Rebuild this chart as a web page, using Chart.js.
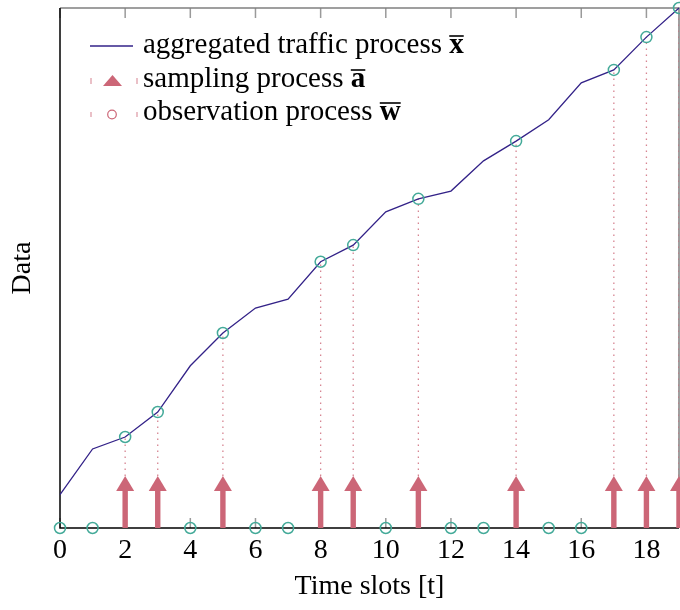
<!DOCTYPE html>
<html>
<head>
<meta charset="utf-8">
<title>Traffic sampling</title>
<script src="https://cdn.jsdelivr.net/npm/chart.js@4.4.1/dist/chart.umd.min.js"></script>
<style>
  html, body { margin: 0; padding: 0; background: #fff; }
  #wrap { width: 680px; height: 610px; }
</style>
</head>
<body>
<div id="wrap"><canvas id="chart" width="680" height="610"></canvas></div>
<script>
// Datos
const timeSlots = [0, 1, 2, 3, 4, 5, 6, 7, 8, 9, 10, 11, 12, 13, 14, 15, 16, 17, 18, 19];
const traffic = [0.64, 1.52, 1.75, 2.23, 3.12, 3.75, 4.23, 4.40, 5.12, 5.44,
                 6.08, 6.33, 6.48, 7.06, 7.44, 7.85, 8.56, 8.81, 9.44, 10.0];
const sampledSlots = [2, 3, 5, 8, 9, 11, 14, 17, 18, 19];
const arrowHeight = 1;
const xTicks = [0, 2, 4, 6, 8, 10, 12, 14, 16, 18];
const legendLabels = ['aggregated traffic process ', 'sampling process ', 'observation process '];
const legendSymbols = ['x', 'a', 'w'];

const INDIGO = '#332288';
const ROSE = '#CC6677';
const TEAL = '#44AA99';
const FONT = '"Liberation Serif", "Times New Roman", serif';

const observation = timeSlots.map(t => ({ x: t, y: sampledSlots.includes(t) ? traffic[t] : 0 }));
const stems = sampledSlots.flatMap(t => [
    { x: t, y: arrowHeight },
    { x: t, y: traffic[t] },
    { x: t, y: null }
]);

// Marco y marcas de los ejes (hacia dentro, estilo pgfplots)
const framePlugin = {
    id: 'frame',
    beforeDatasetsDraw(chart) {
        const { ctx, chartArea: { left, right, top, bottom }, scales: { x } } = chart;
        ctx.save();
        ctx.lineWidth = 1.5;
        ctx.strokeStyle = '#9a9a9a';
        xTicks.forEach(v => {
            const px = x.getPixelForValue(v);
            ctx.beginPath();
            ctx.moveTo(px, bottom); ctx.lineTo(px, bottom - 10);
            ctx.moveTo(px, top); ctx.lineTo(px, top + 10);
            ctx.stroke();
        });
        ctx.strokeStyle = '#808080';
        ctx.beginPath();
        ctx.moveTo(left, top); ctx.lineTo(right, top); ctx.lineTo(right, bottom);
        ctx.stroke();
        ctx.strokeStyle = '#000';
        ctx.beginPath();
        ctx.moveTo(left, top); ctx.lineTo(left, bottom); ctx.lineTo(right, bottom);
        ctx.stroke();
        ctx.restore();
    }
};

// Flechas del proceso de muestreo, a partir de las barras
const arrowPlugin = {
    id: 'arrows',
    afterDatasetDraw(chart, args) {
        if (args.meta.type !== 'bar') return;
        const ctx = chart.ctx;
        const headLen = 15, headHalf = 9, shaftHalf = 2.7;
        ctx.save();
        ctx.fillStyle = ROSE;
        args.meta.data.forEach(el => {
            const { x, y, base } = el.getProps(['x', 'y', 'base'], true);
            ctx.fillRect(x - shaftHalf, y + headLen - 0.5, shaftHalf * 2, base - y - headLen + 0.5);
            ctx.beginPath();
            ctx.moveTo(x, y);
            ctx.lineTo(x + headHalf, y + headLen);
            ctx.lineTo(x - headHalf, y + headLen);
            ctx.closePath();
            ctx.fill();
        });
        ctx.restore();
    }
};

// Leyenda dentro del área del gráfico
const legendPlugin = {
    id: 'innerLegend',
    afterDraw(chart) {
        const ctx = chart.ctx;
        const textX = 143;
        const baselines = [53, 87, 120];
        ctx.save();
        // símbolos
        ctx.strokeStyle = INDIGO;
        ctx.lineWidth = 1.3;
        ctx.beginPath();
        ctx.moveTo(90, 46); ctx.lineTo(133, 46);
        ctx.stroke();

        ctx.fillStyle = ROSE;
        ctx.beginPath();
        ctx.moveTo(112.5, 75); ctx.lineTo(122, 86); ctx.lineTo(103, 86);
        ctx.closePath();
        ctx.fill();

        ctx.strokeStyle = ROSE;
        ctx.lineWidth = 1.2;
        ctx.beginPath();
        ctx.arc(112, 114.5, 4.3, 0, Math.PI * 2);
        ctx.stroke();

        ctx.strokeStyle = 'rgba(204,102,119,0.55)';
        ctx.lineWidth = 1.5;
        [[78, 84], [112, 117]].forEach(([y0, y1]) => {
            ctx.beginPath();
            ctx.moveTo(91, y0); ctx.lineTo(91, y1);
            ctx.moveTo(137, y0); ctx.lineTo(137, y1);
            ctx.stroke();
        });

        // textos
        ctx.fillStyle = '#000';
        ctx.textBaseline = 'alphabetic';
        legendLabels.forEach((label, i) => {
            ctx.font = '29px ' + FONT;
            ctx.fillText(label, textX, baselines[i]);
            const w = ctx.measureText(label).width;
            ctx.font = 'bold 29px ' + FONT;
            const sym = legendSymbols[i];
            const sw = ctx.measureText(sym).width;
            ctx.fillText(sym, textX + w, baselines[i]);
            ctx.strokeStyle = '#000';
            ctx.lineWidth = 1.6;
            ctx.beginPath();
            ctx.moveTo(textX + w, baselines[i] - 17);
            ctx.lineTo(textX + w + sw, baselines[i] - 17);
            ctx.stroke();
        });
        ctx.restore();
    }
};

new Chart(document.getElementById('chart'), {
    type: 'line',
    data: {
        datasets: [
            {
                label: 'aggregated traffic process',
                data: timeSlots.map((t, i) => ({ x: t, y: traffic[i] })),
                borderColor: INDIGO,
                borderWidth: 1.3,
                pointRadius: 0,
                tension: 0,
                clip: false,
                order: 2
            },
            {
                label: 'observation process',
                type: 'scatter',
                data: observation,
                pointStyle: 'circle',
                pointRadius: 5.5,
                borderColor: TEAL,
                borderWidth: 1.5,
                backgroundColor: 'rgba(0,0,0,0)',
                clip: false,
                order: 1
            },
            {
                label: 'stems',
                data: stems,
                borderColor: 'rgba(204,102,119,0.8)',
                borderWidth: 1.3,
                borderDash: [1.4, 4.6],
                pointRadius: 0,
                spanGaps: false,
                order: 4
            },
            {
                label: 'sampling process',
                type: 'bar',
                data: sampledSlots.map(t => ({ x: t, y: arrowHeight })),
                backgroundColor: 'rgba(0,0,0,0)',
                borderWidth: 0,
                barThickness: 5,
                clip: false,
                order: 3
            }
        ]
    },
    options: {
        responsive: false,
        animation: false,
        events: [],
        layout: { autoPadding: false, padding: { top: 8, right: 1, left: 0, bottom: 0 } },
        plugins: {
            legend: { display: false },
            tooltip: { enabled: false }
        },
        scales: {
            x: {
                type: 'linear',
                min: 0,
                max: 19,
                offset: false,
                afterBuildTicks: scale => { scale.ticks = xTicks.map(v => ({ value: v })); },
                afterFit: scale => {
                    scale.height = 82;
                    scale.paddingLeft = 0;
                    scale.paddingRight = 0;
                },
                grid: { display: false, drawTicks: false, offset: false },
                border: { display: false },
                ticks: {
                    autoSkip: false,
                    maxRotation: 0,
                    padding: 6,
                    color: '#000',
                    font: { family: FONT, size: 28 }
                },
                title: {
                    display: true,
                    text: 'Time slots [t]',
                    color: '#000',
                    font: { family: FONT, size: 28 },
                    padding: { top: 0, bottom: 7 }
                }
            },
            y: {
                min: 0,
                max: 10,
                afterFit: scale => { scale.width = 60; },
                grid: { display: false, drawTicks: false },
                border: { display: false },
                ticks: { display: false },
                title: {
                    display: true,
                    text: 'Data',
                    color: '#000',
                    font: { family: FONT, size: 28 },
                    padding: { top: 6, bottom: 0 }
                }
            }
        }
    },
    plugins: [framePlugin, arrowPlugin, legendPlugin]
});
</script>
</body>
</html>
